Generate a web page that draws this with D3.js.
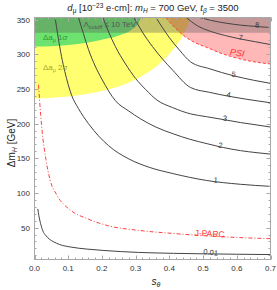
<!DOCTYPE html>
<html>
<head>
<meta charset="utf-8">
<script src="https://cdn.jsdelivr.net/npm/d3@7"></script>
<style>
body { margin: 0; background: #fff; }
text { font-family: "Liberation Sans", Arial, sans-serif; }
</style>
</head>
<body>
<div id="chart"></div>
<script>

var width = 277, height = 290;

// axis ticks
var xTicks = [0, 0.1, 0.2, 0.3, 0.4, 0.5, 0.6, 0.7];
var yTicks = [50, 100, 150, 200, 250, 300, 350];

// contour lines of d_mu, [s_theta, dm_H]
var c001 = [[0.0098,77],[0.013,67],[0.018,56],[0.025,45],[0.033,39],[0.045,33],[0.057,29.5],[0.075,25.5],[0.107,22],[0.156,19],[0.206,17],[0.309,14.2],[0.412,12.9],[0.512,12.1],[0.6,11.6],[0.7,11.1]];
var c1 = [[0.061,353],[0.07,325],[0.08,297],[0.09,275],[0.11,241],[0.13,222],[0.16,200],[0.22,168],[0.28,149],[0.34,137],[0.41,128],[0.51,118],[0.61,112.5],[0.7,109.5]];
var c2 = [[0.1305,353],[0.145,330],[0.16,307],[0.18,283],[0.2,264],[0.24,233],[0.28,218],[0.314,207],[0.36,195],[0.413,185],[0.46,177.5],[0.512,171],[0.56,165.5],[0.611,161],[0.66,158],[0.7,156]];
var c3 = [[0.203,353],[0.22,332],[0.24,311],[0.27,286],[0.3,265],[0.33,249],[0.363,234],[0.41,223],[0.463,214],[0.51,210],[0.564,205.5],[0.611,201.5],[0.66,198],[0.7,195]];
var c4 = [[0.295,353],[0.32,332],[0.35,311],[0.38,293],[0.41,277],[0.463,252],[0.52,245],[0.575,239.5],[0.63,235],[0.7,230]];
var c5 = [[0.36,353],[0.38,338],[0.4,324],[0.43,306],[0.463,289],[0.52,279],[0.59,269],[0.65,262.5],[0.7,258]];
var c7 = [[0.45,353],[0.48,342],[0.522,333],[0.566,327],[0.611,322],[0.655,318],[0.7,314]];
var c8 = [[0.49,353],[0.522,349],[0.566,345],[0.611,342],[0.66,340],[0.7,338.5]];
var contourNames = ["0.01", "1", "2", "3", "4", "5", "7", "8"];
var contourLabelS = [0.522, 0.537, 0.551, 0.564, 0.575, 0.59, 0.611, 0.66];

// constraints
var jparc = [[0.012,256],[0.015,234],[0.022,192],[0.034,148],[0.046,119],[0.065,98],[0.107,75],[0.156,63],[0.216,53],[0.309,46],[0.412,41.5],[0.513,38],[0.6,35.8],[0.7,34]];
var psi = [[0.389,353],[0.415,339],[0.442,327],[0.475,317],[0.513,309.5],[0.55,302],[0.581,297],[0.641,290],[0.7,286]];
var amu2sigma = [[0,236],[0.1,239],[0.2,247],[0.27,257],[0.32,269],[0.37,286],[0.41,306],[0.44,327],[0.457,345],[0.463,353]];
var amu1sigma = [[0,311],[0.1,313.5],[0.19,320],[0.25,327],[0.29,336],[0.31,346],[0.316,353]];
var cutoffBand = [331, 353];

var x = d3.scaleLinear().domain([0, 0.7]).range([34.5, 270.5]);
var y = d3.scaleLinear().domain([4, 353]).range([259.5, 17.5]);

var svg = d3.select("#chart").append("svg")
	.attr("width", width)
	.attr("height", height);

svg.append("clipPath").attr("id", "plot")
	.append("rect").attr("x", x(0)).attr("y", y(353)).attr("width", x(0.7) - x(0)).attr("height", y(4) - y(353));

var g = svg.append("g").attr("clip-path", "url(#plot)");

var area = d3.area().x(d => x(d[0])).y0(y(353)).y1(d => y(d[1])).curve(d3.curveMonotoneX);
var line = d3.line().x(d => x(d[0])).y(d => y(d[1])).curve(d3.curveMonotoneX);

g.append("path").attr("d", area(amu2sigma)).attr("fill", "#ffff70");
g.append("path").attr("d", area(amu1sigma)).attr("fill", "#6ee26e");
g.append("path").attr("d", area(psi)).attr("fill", "rgba(255,0,0,0.28)");
g.append("rect").attr("x", x(0)).attr("width", x(0.7) - x(0))
	.attr("y", y(cutoffBand[1])).attr("height", y(cutoffBand[0]) - y(cutoffBand[1]))
	.attr("fill", "rgba(90,90,90,0.35)");

var contours = [c001, c1, c2, c3, c4, c5, c7, c8];
contours.forEach(function(c) {
	g.append("path").attr("d", line(c)).attr("fill", "none")
		.attr("stroke", "#444").attr("stroke-width", 1);
});

g.append("path").attr("d", line(psi)).attr("fill", "none")
	.attr("stroke", "#ff4040").attr("stroke-width", 1).attr("stroke-dasharray", "3,2");
g.append("path").attr("d", line(jparc)).attr("fill", "none")
	.attr("stroke", "#ff4040").attr("stroke-width", 1).attr("stroke-dasharray", "4,2,1,2");

function at(pts, s) {
	for (var i = 1; i < pts.length; i++) {
		if (pts[i][0] >= s) {
			var t = (s - pts[i-1][0]) / (pts[i][0] - pts[i-1][0]);
			return pts[i-1][1] + t * (pts[i][1] - pts[i-1][1]);
		}
	}
	return pts[pts.length - 1][1];
}

contours.forEach(function(c, i) {
	var s = contourLabelS[i];
	g.append("text").attr("x", x(s)).attr("y", y(at(c, s)) + 1)
		.attr("text-anchor", "middle").attr("font-size", 7.5).attr("fill", "#333")
		.attr("transform", "rotate(8," + x(s) + "," + y(at(c, s)) + ")")
		.text(contourNames[i]);
});

g.append("text").attr("x", x(0.599)).attr("y", y(at(psi, 0.599)) - 2)
	.attr("text-anchor", "middle").attr("font-size", 9).attr("fill", "#ff3030")
	.attr("font-style", "italic")
	.attr("transform", "rotate(8," + x(0.599) + "," + y(at(psi, 0.599)) + ")")
	.text("PSI");
g.append("text").attr("x", x(0.519)).attr("y", y(at(jparc, 0.519)) + 0.5)
	.attr("text-anchor", "middle").attr("font-size", 8.5).attr("fill", "#ff3030")
	.attr("transform", "rotate(3," + x(0.519) + "," + y(at(jparc, 0.519)) + ")")
	.text("J-PARC");

var cut = g.append("text").attr("x", x(0.223)).attr("y", y(339)).attr("text-anchor", "middle")
	.attr("font-size", 8).attr("fill", "#555");
cut.append("tspan").text("\u039B");
cut.append("tspan").attr("font-size", 5.5).attr("dy", 1.5).text("cutoff");
cut.append("tspan").attr("dy", -1.5).text(" \u2264 10 TeV");

function amuLabel(s, v, sig, col) {
	var t = g.append("text").attr("x", x(s)).attr("y", y(v)).attr("font-size", 8).attr("fill", col);
	t.append("tspan").text("\u0394a");
	t.append("tspan").attr("font-size", 5.5).attr("dy", 1.5).text("\u03BC");
	t.append("tspan").attr("dy", -1.5).text(" " + sig);
	t.append("tspan").attr("font-style", "italic").text("\u03C3");
}
amuLabel(0.025, 320, "1", "#2f9a2f");
amuLabel(0.025, 277, "2", "#a8a830");

// frame and ticks
svg.append("rect").attr("x", x(0)).attr("y", y(353)).attr("width", x(0.7) - x(0)).attr("height", y(4) - y(353))
	.attr("fill", "none").attr("stroke", "#a8a8a8");

var ticks = svg.append("g").attr("stroke", "#a8a8a8").attr("stroke-width", 1);
d3.range(0, 0.7001, 0.02).forEach(function(v) {
	var major = Math.abs(v * 10 - Math.round(v * 10)) < 1e-6;
	var len = major ? 4 : 2;
	var px = Math.round(x(v)) + 0.5;
	ticks.append("line").attr("x1", px).attr("x2", px).attr("y1", y(4)).attr("y2", y(4) - len);
	ticks.append("line").attr("x1", px).attr("x2", px).attr("y1", y(353)).attr("y2", y(353) + len);
});
d3.range(10, 353, 10).forEach(function(v) {
	var len = v % 50 == 0 ? 4 : 2;
	var py = Math.round(y(v)) + 0.5;
	ticks.append("line").attr("x1", x(0)).attr("x2", x(0) + len).attr("y1", py).attr("y2", py);
	ticks.append("line").attr("x1", x(0.7)).attr("x2", x(0.7) - len).attr("y1", py).attr("y2", py);
});

svg.selectAll(".xl").data(xTicks).enter().append("text")
	.attr("x", d => x(d)).attr("y", 271).attr("text-anchor", "middle")
	.attr("font-size", 8).attr("fill", "#333").text(d => d.toFixed(1));
svg.selectAll(".yl").data(yTicks).enter().append("text")
	.attr("x", 30).attr("y", d => y(d) + 3).attr("text-anchor", "end")
	.attr("font-size", 8).attr("fill", "#333").text(d => d);

// title
var title = svg.append("text").attr("x", 153).attr("y", 11).attr("text-anchor", "middle")
	.attr("font-size", 9.5).attr("fill", "#222");
title.append("tspan").attr("font-style", "italic").text("d");
title.append("tspan").attr("font-size", 6.5).attr("dy", 2).text("\u03BC");
title.append("tspan").attr("dy", -2).text(" [10");
title.append("tspan").attr("font-size", 6.5).attr("dy", -3.5).text("\u221223");
title.append("tspan").attr("dy", 3.5).text(" e\u00B7cm]: ");
title.append("tspan").attr("font-style", "italic").text("m");
title.append("tspan").attr("font-size", 6.5).attr("font-style", "italic").attr("dy", 2).text("H");
title.append("tspan").attr("dy", -2).text(" = 700 GeV, ");
title.append("tspan").attr("font-style", "italic").text("t");
title.append("tspan").attr("font-size", 6.5).attr("font-style", "italic").attr("dy", 2).text("\u03B2");
title.append("tspan").attr("dy", -2).text(" = 3500");

// axis labels
var yl = svg.append("text").attr("transform", "translate(15,143) rotate(-90)")
	.attr("text-anchor", "middle").attr("font-size", 10).attr("fill", "#222");
yl.append("tspan").text("\u0394m");
yl.append("tspan").attr("font-size", 7).attr("font-style", "italic").attr("dy", 2).text("H");
yl.append("tspan").attr("dy", -2).text(" [GeV]");

var xl = svg.append("text").attr("x", 156).attr("y", 285).attr("text-anchor", "middle")
	.attr("font-size", 10).attr("fill", "#222");
xl.append("tspan").attr("font-style", "italic").text("s");
xl.append("tspan").attr("font-size", 7).attr("font-style", "italic").attr("dy", 2).text("\u03B8");

</script>
</body>
</html>
